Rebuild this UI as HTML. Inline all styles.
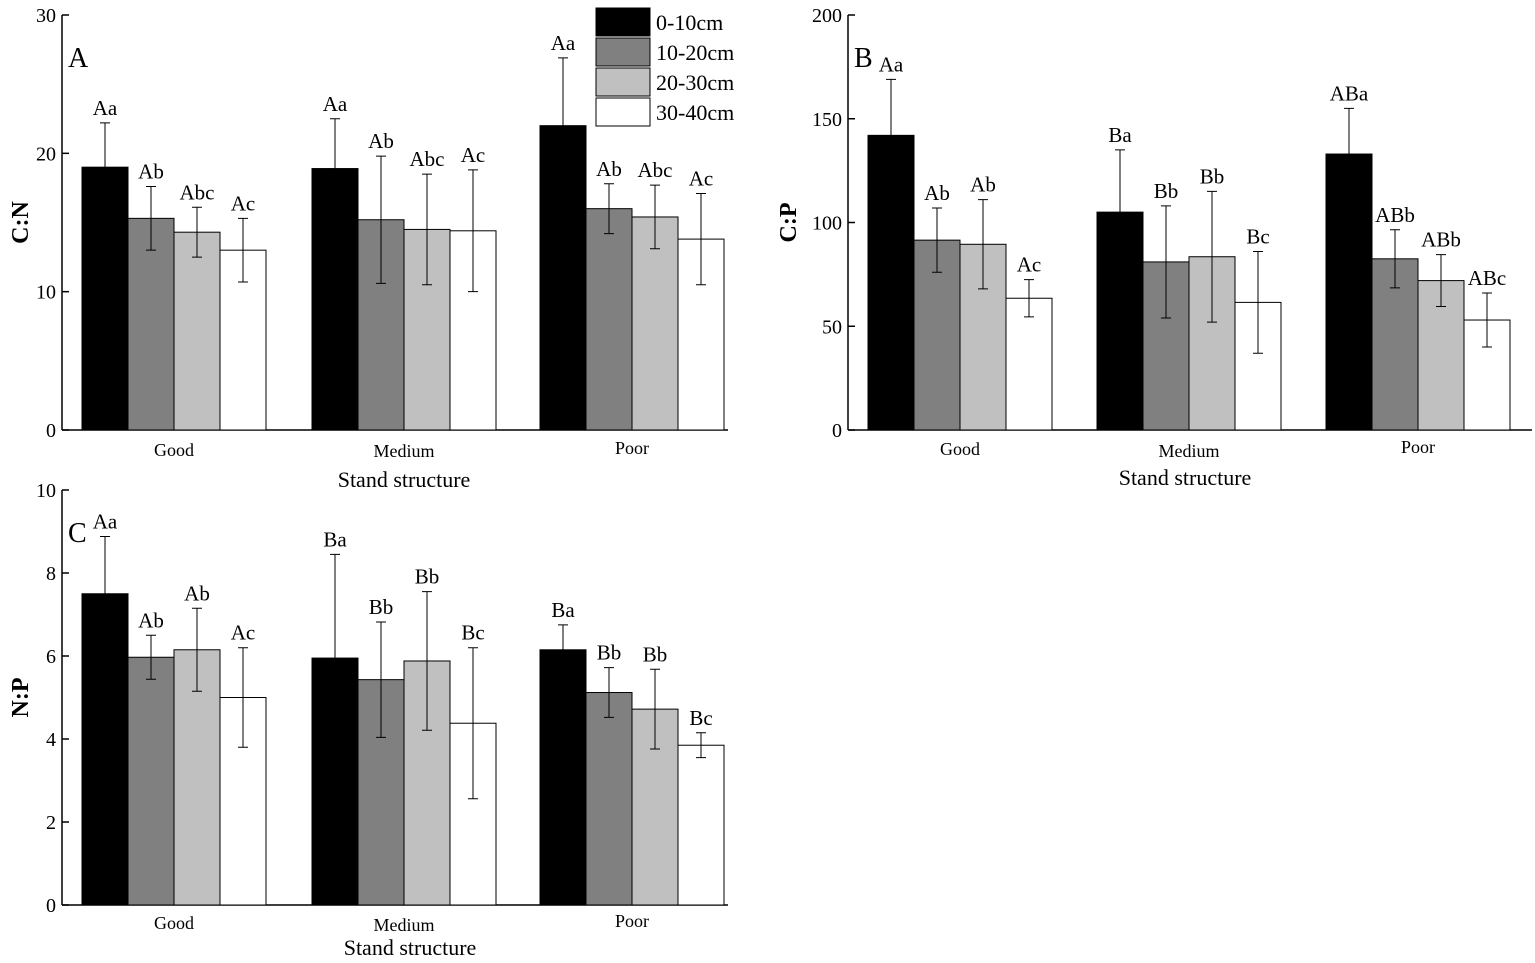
<!DOCTYPE html>
<html><head><meta charset="utf-8"><style>
html,body{margin:0;padding:0;background:#fff;}
svg{display:block;font-family:"Liberation Serif",serif;}
</style></head><body>
<svg id="chart" width="1535" height="963" viewBox="0 0 1535 963" xmlns="http://www.w3.org/2000/svg"></svg>
<script>
const categories = ["Good","Medium","Poor"];
const depths = ["0-10cm","10-20cm","20-30cm","30-40cm"];
const colors = ["#000000","#808080","#c0c0c0","#ffffff"];

const cnValues = [[19.0,15.3,14.3,13.0],[18.9,15.2,14.5,14.4],[22.0,16.0,15.4,13.8]];
const cnErrors = [[3.2,2.3,1.8,2.3],[3.6,4.6,4.0,4.4],[4.9,1.8,2.3,3.3]];
const cnLetters = [["Aa","Ab","Abc","Ac"],["Aa","Ab","Abc","Ac"],["Aa","Ab","Abc","Ac"]];
const cnTicks = [0,10,20,30];

const cpValues = [[142,91.5,89.5,63.5],[105,81,83.5,61.5],[133,82.5,72,53]];
const cpErrors = [[27,15.5,21.5,9],[30,27,31.5,24.5],[22,14,12.5,13]];
const cpLetters = [["Aa","Ab","Ab","Ac"],["Ba","Bb","Bb","Bc"],["ABa","ABb","ABb","ABc"]];
const cpTicks = [0,50,100,150,200];

const npValues = [[7.5,5.97,6.15,5.0],[5.95,5.43,5.88,4.38],[6.15,5.12,4.72,3.85]];
const npErrors = [[1.38,0.53,1.0,1.2],[2.5,1.39,1.67,1.82],[0.6,0.6,0.96,0.3]];
const npLetters = [["Aa","Ab","Ab","Ac"],["Ba","Bb","Bb","Bc"],["Ba","Bb","Bb","Bc"]];
const npTicks = [0,2,4,6,8,10];

const svg = document.getElementById('chart');
const NS = "http://www.w3.org/2000/svg";
function mk(tag, attrs, parent, text){
  const e = document.createElementNS(NS, tag);
  for (const k in attrs) e.setAttribute(k, attrs[k]);
  if (text !== undefined) e.textContent = text;
  (parent||svg).appendChild(e);
  return e;
}

function panel(cfg){
  const g = mk('g', {});
  
  
  const y = v => cfg.y0 - (v - cfg.min) / (cfg.max - cfg.min) * (cfg.y0 - cfg.y1);
  // axes
  const ax = mk('line', {x1:cfg.x0,y1:cfg.y1,x2:cfg.x0,y2:cfg.y0,stroke:'#000','stroke-width':1.5}, g);
  
  
  const bx = mk('line', {x1:cfg.x0,y1:cfg.y0,x2:cfg.xEnd,y2:cfg.y0,stroke:'#000','stroke-width':1.5}, g);
  
  
  cfg.ticks.forEach(t => {
    mk('line', {x1:cfg.x0,y1:y(t),x2:cfg.x0+7,y2:y(t),stroke:'#000','stroke-width':1.5}, g);
    const tl = mk('text', {x:cfg.x0-6,y:y(t)+7,'text-anchor':'end','font-size':20}, g, String(t));
    
    
  });
  const yt = mk('text', {x:cfg.yTitleX,y:(cfg.y0+cfg.y1)/2,'text-anchor':'middle','font-size':24,'font-weight':'bold',transform:`rotate(-90 ${cfg.yTitleX} ${(cfg.y0+cfg.y1)/2})`}, g, cfg.yTitle);
  
  
  const pl = mk('text', {x:cfg.x0+6,y:cfg.y1+52,'font-size':28}, g, cfg.letter);
  
  
  const bw = 46;
  categories.forEach((c, ci) => {
    const gx = cfg.groupStart[ci];
    cfg.values[ci].forEach((v, di) => {
      const x = gx + di*bw;
      const r = mk('rect', {x:x,y:y(v),width:bw,height:cfg.y0-y(v),fill:colors[di],stroke:'#000','stroke-width':1}, g);
      
      
      const e = cfg.errors[ci][di];
      const cx = x + bw/2, top = y(v+e), bot = y(v-e);
      const eb = mk('path', {d:`M${cx},${top}V${bot}M${cx-5},${top}H${cx+5}M${cx-5},${bot}H${cx+5}`,stroke:'#000','stroke-width':1,fill:'none'}, g);
      
      
      const lt = mk('text', {x:cx,y:top-8,'text-anchor':'middle','font-size':21}, g, cfg.letters[ci][di]);
      
      
    });
    const cl = mk('text', {x:gx+2*bw,y:cfg.y0+cfg.catDy[ci],'text-anchor':'middle','font-size':18}, g, c);
    
    
  });
  const xt = mk('text', {x:cfg.xTitleX,y:cfg.y0+cfg.xTitleDy,'text-anchor':'middle','font-size':22}, g, 'Stand structure');
  
  
}

panel({name:'panel-a-cn',x0:62,xEnd:728,y0:430,y1:15,min:0,max:30,ticks:cnTicks,values:cnValues,errors:cnErrors,letters:cnLetters,
  groupStart:[82,312,540],yTitle:'C:N',yTitleX:28,letter:'A',catDy:[26,27,24],xTitleX:404,xTitleDy:57});
panel({name:'panel-b-cp',x0:848,xEnd:1532,y0:430,y1:15,min:0,max:200,ticks:cpTicks,values:cpValues,errors:cpErrors,letters:cpLetters,
  groupStart:[868,1097,1326],yTitle:'C:P',yTitleX:796,letter:'B',catDy:[25,27,23],xTitleX:1185,xTitleDy:55});
panel({name:'panel-c-np',x0:62,xEnd:728,y0:905,y1:490,min:0,max:10,ticks:npTicks,values:npValues,errors:npErrors,letters:npLetters,
  groupStart:[82,312,540],yTitle:'N:P',yTitleX:28,letter:'C',catDy:[24,26,22],xTitleX:410,xTitleDy:50});

// legend
const lg = mk('g', {});


depths.forEach((d, i) => {
  const r = mk('rect', {x:596,y:8+i*30,width:54,height:28,fill:colors[i],stroke:'#000','stroke-width':1}, lg);
  
  
  const t = mk('text', {x:656,y:30+i*30,'font-size':22}, lg, d);
  
  
});
</script>
</body></html>
